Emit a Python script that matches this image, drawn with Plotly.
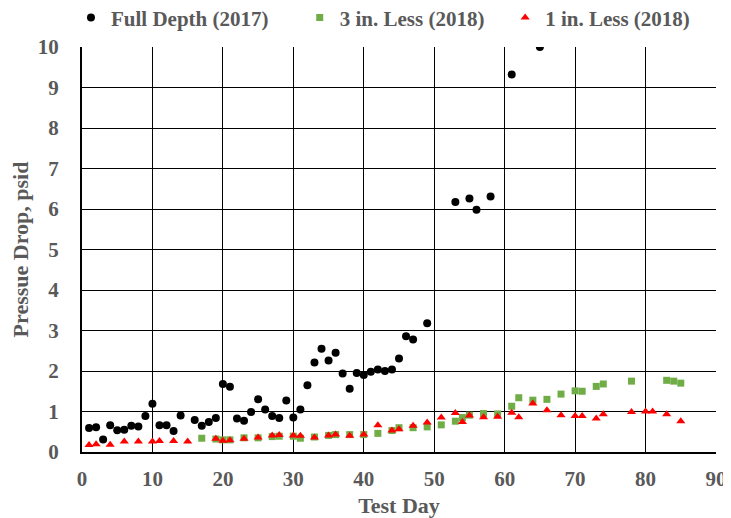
import plotly.graph_objects as go

# Full Depth (2017)
fd_days = [1, 2, 3, 4, 5, 6, 7, 8, 9, 10, 11, 12, 13, 14, 16, 17, 18, 19, 20, 21,
           22, 23, 24, 25, 26, 27, 28, 29, 30, 31, 32, 33, 34, 35, 36, 37, 38, 39,
           40, 41, 42, 43, 44, 45, 46, 47, 49, 53, 55, 56, 58, 61, 65]
fd_vals = [0.59, 0.61, 0.31, 0.66, 0.54, 0.55, 0.65, 0.63, 0.89, 1.19, 0.66, 0.66,
           0.52, 0.90, 0.79, 0.65, 0.74, 0.84, 1.68, 1.61, 0.83, 0.77, 0.99, 1.30,
           1.05, 0.89, 0.84, 1.27, 0.85, 1.05, 1.65, 2.21, 2.55, 2.26, 2.45, 1.94,
           1.56, 1.95, 1.90, 1.98, 2.04, 2.00, 2.04, 2.31, 2.86, 2.78, 3.18, 6.17,
           6.26, 5.98, 6.31, 9.32, 10.0]

# 3 in. Less (2018)
l3_days = [17, 19, 20, 21, 23, 25, 27, 28, 30, 31, 33, 35, 36, 38, 40, 42, 44, 45,
           47, 49, 51, 53, 54, 55, 57, 59, 61, 62, 64, 66, 68, 70, 71, 73, 74, 78,
           83, 84, 85]
l3_vals = [0.34, 0.32, 0.30, 0.30, 0.35, 0.35, 0.38, 0.39, 0.39, 0.34, 0.37, 0.41,
           0.43, 0.43, 0.43, 0.46, 0.53, 0.60, 0.60, 0.62, 0.67, 0.76, 0.85, 0.91,
           0.95, 0.94, 1.13, 1.34, 1.28, 1.30, 1.43, 1.51, 1.50, 1.62, 1.68, 1.75,
           1.77, 1.75, 1.70]

# 1 in. Less (2018)
l1_days = [1, 2, 4, 6, 8, 10, 11, 13, 15, 19, 20, 21, 23, 25, 27, 28, 30, 31, 33,
           35, 36, 38, 40, 42, 44, 45, 47, 49, 51, 53, 54, 55, 57, 59, 61, 62, 64,
           66, 68, 70, 71, 73, 74, 78, 80, 81, 83, 85]
l1_vals = [0.17, 0.19, 0.18, 0.26, 0.26, 0.26, 0.27, 0.27, 0.26, 0.33, 0.28, 0.29,
           0.33, 0.36, 0.41, 0.42, 0.41, 0.40, 0.36, 0.41, 0.43, 0.40, 0.43, 0.66,
           0.53, 0.56, 0.65, 0.73, 0.85, 0.96, 0.74, 0.90, 0.86, 0.87, 0.97, 0.86,
           1.20, 1.03, 0.91, 0.89, 0.89, 0.83, 0.93, 0.99, 1.00, 1.00, 0.93, 0.76]

series_names = ["Full Depth (2017)", "3 in. Less (2018)", "1 in. Less (2018)"]
x_ticks = [0, 10, 20, 30, 40, 50, 60, 70, 80, 90]
y_ticks = [0, 1, 2, 3, 4, 5, 6, 7, 8, 9, 10]

FONT = "Liberation Serif"
GRAY = "#595959"
NB = "\u00a0"

fig = go.Figure()
fig.add_trace(go.Scatter(x=fd_days, y=fd_vals, mode="markers", name=series_names[0] + NB * 5,
                         marker=dict(symbol="circle", size=8, color="black")))
fig.add_trace(go.Scatter(x=l3_days, y=l3_vals, mode="markers", name=series_names[1] + NB * 3,
                         marker=dict(symbol="square", size=7, color="#70AD47")))
fig.add_trace(go.Scatter(x=l1_days, y=l1_vals, mode="markers", name=series_names[2],
                         marker=dict(symbol="triangle-up", size=8, color="#FF0000")))

fig.update_layout(
    width=723, height=510,
    margin=dict(l=74, r=15, t=39, b=66, autoexpand=False),
    paper_bgcolor="white", plot_bgcolor="white",
    showlegend=True,
    legend=dict(orientation="h", x=-0.0174, xanchor="left", y=1.072, yanchor="middle",
                yref="paper", font=dict(family=FONT, size=21, color=GRAY, weight="bold"),
                itemwidth=30, bgcolor="rgba(0,0,0,0)"),
    xaxis=dict(range=[0, 90], tickvals=x_ticks, showgrid=True, gridcolor="black", gridwidth=1,
               showline=True, linecolor="black", linewidth=2, zeroline=False,
               ticks="", ticklabelstandoff=7, automargin=False,
               tickfont=dict(family=FONT, size=21, color=GRAY, weight="bold"),
               title=dict(text="Test Day", standoff=8,
                          font=dict(family=FONT, size=22, color=GRAY, weight="bold"))),
    yaxis=dict(range=[0, 10], tickvals=y_ticks, showgrid=True, gridcolor="black", gridwidth=1,
               showline=True, linecolor="black", linewidth=2, zeroline=False,
               ticks="", ticklabelstandoff=17, automargin=False,
               tickfont=dict(family=FONT, size=21, color=GRAY, weight="bold"),
               title=dict(text="Pressue Drop, psid", standoff=10,
                          font=dict(family=FONT, size=22, color=GRAY, weight="bold"))),
)

fig.write_html("out.html")
